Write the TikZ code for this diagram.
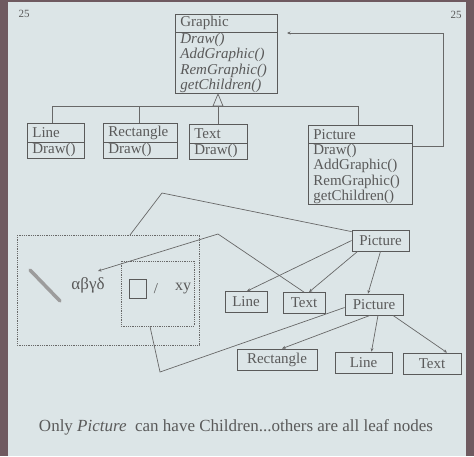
\documentclass[tikz,border=0pt]{standalone}
\usepackage{fontspec}
\setmainfont{Liberation Serif}
\usetikzlibrary{arrows.meta,calc}
\definecolor{slide}{HTML}{DCE5E7}
\definecolor{frame}{HTML}{6F5A60}
\definecolor{ink}{HTML}{5A5A5A}
\definecolor{wire}{HTML}{686868}
\tikzset{
  umlhead/.style={draw=ink, line width=0.7pt, anchor=north west, inner xsep=5pt, inner ysep=0pt, align=left, font=\fontsize{15}{15.5}\selectfont, text=ink},
  umlbody/.style={draw=ink, line width=0.7pt, anchor=north west, inner xsep=5pt, inner ysep=0pt, align=left, font=\fontsize{15}{15.5}\selectfont, text=ink},
  treebox/.style={draw=ink, line width=0.8pt, minimum height=21pt, inner xsep=6pt, inner ysep=0pt, font=\fontsize{15}{15}\selectfont, text=ink},
  wireline/.style={draw=wire, line width=0.7pt},
  tip/.style={wireline, -{Stealth[length=3.5pt,width=3pt]}},
  dotbox/.style={draw=wire, line width=1pt, dash pattern=on 1pt off 0.8pt},
  plain/.style={text=ink, inner sep=0pt}
}
\begin{document}
\begin{tikzpicture}[x=1pt,y=-1pt]
\fill[frame] (0,0) rectangle (474,456);
\fill[slide] (7.5,2) rectangle (466,456);
\useasboundingbox (0,0) rectangle (474,456);

\node[plain, font=\fontsize{11}{11}\selectfont] (n25a) at (24,14) {25};
\node[plain, font=\fontsize{11}{11}\selectfont] (n25b) at (456,15) {25};

% Graphic class
\node[umlhead, text width=92pt, minimum height=18pt] (gh) at (175,14) {Graphic};
\node[umlbody, text width=92pt, minimum height=61pt] (gb) at (175,32) {\itshape Draw()\\\itshape AddGraphic()\\\itshape RemGraphic()\\\itshape getChildren()};

% subclasses
\node[umlhead, text width=47pt, minimum height=19pt] (lh) at (27,123) {Line};
\node[umlbody, text width=47pt, minimum height=16pt] (lb) at (27,142) {Draw()};
\node[umlhead, text width=64pt, minimum height=19pt] (rh) at (103,123) {Rectangle};
\node[umlbody, text width=64pt, minimum height=16pt] (rb) at (103,142) {Draw()};
\node[umlhead, text width=48pt, minimum height=19pt] (th) at (189,124) {Text};
\node[umlbody, text width=48pt, minimum height=16pt] (tb) at (189,143) {Draw()};
\node[umlhead, text width=94pt, minimum height=18pt] (ph) at (308,125) {Picture};
\node[umlbody, text width=94pt, minimum height=61pt] (pb) at (308,143) {Draw()\\AddGraphic()\\RemGraphic()\\getChildren()};

% inheritance
\coordinate (tri) at (218,94);
\coordinate (bar) at (218,106);
\draw[wireline, fill=slide] (tri) -- (223,106) -- (213,106) -- cycle;
\draw[wireline] (lh.north -| 52,0) |- (bar);
\draw[wireline] (rh.north -| 139,0) -- (139,106);
\draw[wireline] (th.north -| 218,0) -- (bar);
\draw[wireline] (bar) -| (ph.north -| 358,0);

% aggregation arrow
\coordinate (gtarget) at (287,33);
\draw[tip] (pb.east |- 0,146) -- (443,146) -- (443,33) -- (gtarget);

% object diagram: dotted boxes
\draw[dotbox] (17,235) rectangle (199,345);
\draw[dotbox] (121,261) rectangle (194,326);
\coordinate (outertop) at (130,235);
\coordinate (innerbot) at (150,326.5);
\draw[line width=3.5pt, draw=ink!60, line cap=round] (30,270) -- (60,301);
\node[plain, font=\fontsize{17}{17}\selectfont] (greek) at (88,285) {αβγδ};
\draw[draw=ink, line width=0.8pt] (129,279) rectangle (146,298);
\node[plain, font=\fontsize{15}{15}\selectfont] (slash) at (156,289) {/};
\node[plain, font=\fontsize{16}{16}\selectfont] (xy) at (183,289) {xy};

% tree
\node[treebox, minimum width=57pt] (p1) at (380.5,240.5) {Picture};
\node[treebox, minimum width=42pt] (t1) at (246,302) {Line};
\node[treebox, minimum width=42pt] (t2) at (304,303) {Text};
\node[treebox, minimum width=58pt] (p2) at (374,304.5) {Picture};
\node[treebox, minimum width=80pt] (t3) at (277,359.5) {Rectangle};
\node[treebox, minimum width=57pt] (t4) at (363.5,362.5) {Line};
\node[treebox, minimum width=58pt] (t5) at (432,363.5) {Text};

\draw[tip] (p1.west) -- ([xshift=1pt]t1.north);
\draw[tip] ([xshift=6pt]p1.south west) -- ([xshift=5pt]t2.north);
\draw[tip] (p1.south) -- ([xshift=-6pt]p2.north);
\draw[tip] ([xshift=-4pt]p2.south) -- ([xshift=5pt]t3.north);
\draw[tip] ([xshift=4pt]p2.south) -- ([xshift=8pt]t4.north);
\draw[tip] ([xshift=19pt]p2.south) -- ([xshift=15pt]t5.north);

% links from tree into drawing
\coordinate (k1) at (162,193);
\coordinate (k2) at (218,234);
\coordinate (k3) at (160,372);
\coordinate (greektip) at (98,271);
\draw[wireline] ([yshift=-2pt]p1.north west) -- (k1) -- (outertop);
\draw[tip] (t2.north) -- (k2) -- (greektip);
\draw[wireline] ([yshift=-3pt]p2.west) -- (k3) -- (innerbot);

\node[plain, font=\fontsize{17}{17}\selectfont] (cap) at (236,427) {Only \textit{Picture}\ \ can have Children...others are all leaf nodes};
\end{tikzpicture}
\end{document}
